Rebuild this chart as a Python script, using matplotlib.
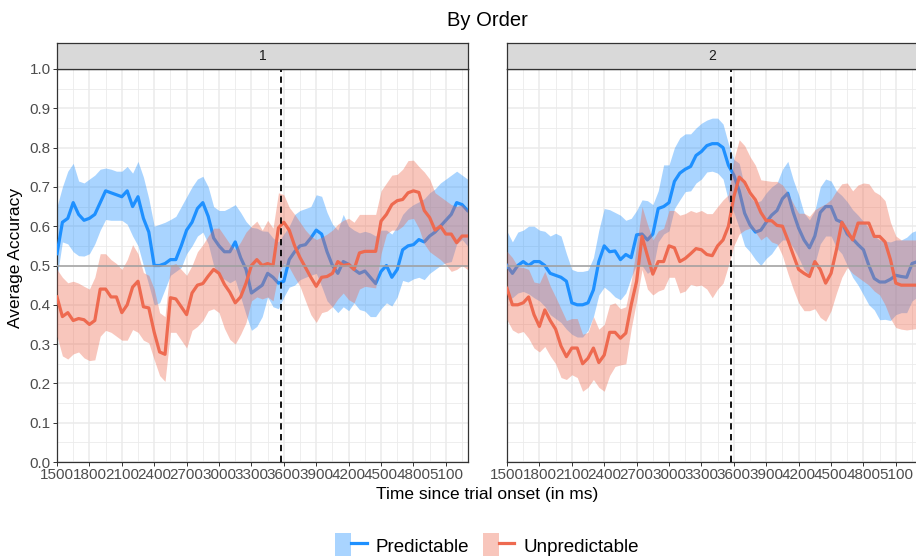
import numpy as np
import matplotlib
matplotlib.use("Agg")
import matplotlib.pyplot as plt
from matplotlib.patches import Patch
from matplotlib.lines import Line2D
from matplotlib.legend_handler import HandlerTuple
from matplotlib.ticker import MultipleLocator

plt.rcParams['font.family'] = ['Liberation Sans', 'DejaVu Sans']

# Sampling grid (ms since trial onset)
time_ms = np.arange(1500, 5301, 50)

# ---- Order 1 ----
o1_pred_mean = [
    0.53, 0.61, 0.62, 0.66, 0.63, 0.615, 0.62, 0.63, 0.66, 0.69,
    0.685, 0.68, 0.675, 0.69, 0.65, 0.675, 0.62, 0.585, 0.50, 0.50,
    0.505, 0.515, 0.515, 0.55, 0.59, 0.61, 0.645, 0.66, 0.625, 0.57,
    0.55, 0.535, 0.535, 0.56, 0.52, 0.49, 0.43, 0.44, 0.45, 0.48,
    0.47, 0.455, 0.46, 0.515, 0.535, 0.55, 0.553, 0.57, 0.59, 0.58,
    0.535, 0.50, 0.48, 0.51, 0.503, 0.49, 0.48, 0.486, 0.47, 0.454,
    0.485, 0.50, 0.47, 0.49, 0.54, 0.55, 0.553, 0.566, 0.56, 0.575,
    0.585, 0.60, 0.615, 0.63, 0.66, 0.655, 0.64]
o1_pred_hi = [
    0.65, 0.70, 0.74, 0.76, 0.715, 0.71, 0.72, 0.73, 0.745, 0.748,
    0.745, 0.74, 0.74, 0.752, 0.735, 0.765, 0.725, 0.67, 0.60, 0.605,
    0.61, 0.617, 0.625, 0.65, 0.675, 0.70, 0.72, 0.727, 0.70, 0.65,
    0.64, 0.64, 0.647, 0.655, 0.635, 0.612, 0.597, 0.595, 0.588, 0.587,
    0.57, 0.56, 0.58, 0.60, 0.63, 0.64, 0.645, 0.65, 0.68, 0.676,
    0.635, 0.605, 0.59, 0.63, 0.60, 0.59, 0.583, 0.587, 0.583, 0.575,
    0.59, 0.59, 0.58, 0.60, 0.63, 0.645, 0.655, 0.662, 0.67, 0.685,
    0.695, 0.71, 0.72, 0.73, 0.74, 0.73, 0.72]
o1_pred_lo = [
    0.47, 0.56, 0.555, 0.535, 0.525, 0.524, 0.53, 0.555, 0.59, 0.617,
    0.615, 0.615, 0.615, 0.605, 0.575, 0.55, 0.50, 0.45, 0.40, 0.405,
    0.44, 0.475, 0.485, 0.495, 0.53, 0.55, 0.575, 0.585, 0.555, 0.50,
    0.47, 0.465, 0.456, 0.464, 0.42, 0.375, 0.335, 0.345, 0.37, 0.42,
    0.395, 0.39, 0.42, 0.445, 0.45, 0.464, 0.47, 0.475, 0.48, 0.447,
    0.41, 0.395, 0.38, 0.395, 0.385, 0.405, 0.388, 0.384, 0.37, 0.37,
    0.39, 0.405, 0.397, 0.42, 0.462, 0.458, 0.466, 0.47, 0.464, 0.48,
    0.49, 0.50, 0.507, 0.51, 0.555, 0.566, 0.55]
o1_unpred_mean = [
    0.42, 0.37, 0.38, 0.36, 0.365, 0.362, 0.35, 0.36, 0.44, 0.44,
    0.42, 0.42, 0.38, 0.40, 0.445, 0.46, 0.395, 0.392, 0.33, 0.28,
    0.274, 0.418, 0.415, 0.395, 0.375, 0.43, 0.45, 0.454, 0.473, 0.49,
    0.48, 0.452, 0.432, 0.405, 0.42, 0.455, 0.50, 0.515, 0.50, 0.505,
    0.50, 0.596, 0.61, 0.59, 0.55, 0.52, 0.495, 0.47, 0.447, 0.47,
    0.472, 0.48, 0.51, 0.50, 0.503, 0.49, 0.532, 0.536, 0.536, 0.536,
    0.613, 0.63, 0.655, 0.665, 0.668, 0.685, 0.69, 0.686, 0.64, 0.622,
    0.59, 0.60, 0.58, 0.58, 0.558, 0.575, 0.575]
o1_unpred_hi = [
    0.49, 0.47, 0.456, 0.46, 0.455, 0.447, 0.44, 0.47, 0.53, 0.53,
    0.515, 0.505, 0.49, 0.515, 0.553, 0.53, 0.482, 0.475, 0.44, 0.38,
    0.37, 0.50, 0.505, 0.49, 0.475, 0.50, 0.535, 0.553, 0.575, 0.595,
    0.595, 0.575, 0.555, 0.54, 0.56, 0.585, 0.60, 0.613, 0.59, 0.615,
    0.595, 0.685, 0.68, 0.648, 0.63, 0.61, 0.59, 0.575, 0.566, 0.572,
    0.58, 0.59, 0.605, 0.615, 0.62, 0.61, 0.63, 0.63, 0.63, 0.63,
    0.69, 0.71, 0.73, 0.732, 0.745, 0.767, 0.768, 0.752, 0.738, 0.72,
    0.685, 0.675, 0.665, 0.655, 0.65, 0.655, 0.642]
o1_unpred_lo = [
    0.32, 0.27, 0.262, 0.275, 0.28, 0.265, 0.258, 0.26, 0.32, 0.335,
    0.33, 0.32, 0.31, 0.31, 0.337, 0.33, 0.31, 0.303, 0.26, 0.22,
    0.205, 0.33, 0.33, 0.31, 0.29, 0.335, 0.345, 0.36, 0.385, 0.39,
    0.38, 0.34, 0.312, 0.30, 0.325, 0.355, 0.41, 0.42, 0.415, 0.42,
    0.41, 0.48, 0.505, 0.495, 0.47, 0.447, 0.41, 0.375, 0.355, 0.38,
    0.384, 0.395, 0.415, 0.43, 0.413, 0.405, 0.44, 0.447, 0.445, 0.443,
    0.53, 0.58, 0.59, 0.59, 0.60, 0.617, 0.62, 0.595, 0.555, 0.535,
    0.525, 0.515, 0.502, 0.485, 0.49, 0.50, 0.49]

# ---- Order 2 ----
o2_pred_mean = [
    0.50, 0.48, 0.50, 0.51, 0.50, 0.51, 0.51, 0.50, 0.48, 0.475,
    0.47, 0.46, 0.405, 0.40, 0.40, 0.405, 0.438, 0.51, 0.55, 0.535,
    0.537, 0.515, 0.528, 0.52, 0.578, 0.58, 0.565, 0.58, 0.645, 0.65,
    0.66, 0.714, 0.735, 0.745, 0.752, 0.78, 0.79, 0.805, 0.81, 0.81,
    0.80, 0.755, 0.73, 0.69, 0.633, 0.603, 0.585, 0.59, 0.61, 0.628,
    0.64, 0.67, 0.684, 0.635, 0.595, 0.565, 0.545, 0.575, 0.635, 0.65,
    0.65, 0.616, 0.61, 0.58, 0.568, 0.553, 0.54, 0.50, 0.467, 0.458,
    0.458, 0.465, 0.475, 0.472, 0.47, 0.505, 0.51]
o2_pred_hi = [
    0.587, 0.56, 0.585, 0.59, 0.60, 0.60, 0.59, 0.587, 0.575, 0.582,
    0.575, 0.53, 0.49, 0.485, 0.485, 0.488, 0.52, 0.59, 0.645, 0.642,
    0.635, 0.628, 0.615, 0.62, 0.64, 0.667, 0.665, 0.655, 0.69, 0.756,
    0.756, 0.80, 0.825, 0.835, 0.835, 0.85, 0.862, 0.87, 0.875, 0.875,
    0.86, 0.81, 0.77, 0.76, 0.70, 0.675, 0.66, 0.665, 0.685, 0.70,
    0.71, 0.745, 0.765, 0.718, 0.68, 0.633, 0.616, 0.64, 0.70, 0.72,
    0.715, 0.69, 0.678, 0.662, 0.642, 0.628, 0.612, 0.595, 0.575, 0.565,
    0.562, 0.56, 0.565, 0.565, 0.572, 0.585, 0.59]
o2_pred_lo = [
    0.413, 0.418, 0.43, 0.434, 0.428, 0.418, 0.41, 0.396, 0.375, 0.365,
    0.355, 0.338, 0.325, 0.318, 0.318, 0.335, 0.37, 0.425, 0.445, 0.434,
    0.42, 0.413, 0.43, 0.47, 0.503, 0.50, 0.48, 0.49, 0.56, 0.58,
    0.588, 0.645, 0.667, 0.688, 0.69, 0.71, 0.72, 0.738, 0.74, 0.735,
    0.72, 0.665, 0.635, 0.595, 0.55, 0.535, 0.515, 0.50, 0.518, 0.53,
    0.55, 0.565, 0.565, 0.545, 0.52, 0.49, 0.475, 0.505, 0.555, 0.575,
    0.575, 0.545, 0.53, 0.50, 0.47, 0.45, 0.425, 0.40, 0.387, 0.362,
    0.363, 0.36, 0.375, 0.38, 0.38, 0.41, 0.42]
o2_unpred_mean = [
    0.442, 0.40, 0.40, 0.405, 0.42, 0.375, 0.345, 0.387, 0.36, 0.338,
    0.295, 0.268, 0.29, 0.29, 0.25, 0.264, 0.29, 0.253, 0.272, 0.33,
    0.33, 0.315, 0.328, 0.40, 0.46, 0.574, 0.525, 0.478, 0.51, 0.51,
    0.55, 0.545, 0.51, 0.518, 0.53, 0.543, 0.54, 0.528, 0.525, 0.55,
    0.565, 0.60, 0.675, 0.725, 0.712, 0.685, 0.667, 0.635, 0.614, 0.614,
    0.602, 0.60, 0.565, 0.527, 0.49, 0.48, 0.472, 0.51, 0.49, 0.455,
    0.48, 0.54, 0.61, 0.588, 0.565, 0.608, 0.608, 0.608, 0.574, 0.574,
    0.56, 0.515, 0.455, 0.45, 0.45, 0.45, 0.45]
o2_unpred_hi = [
    0.536, 0.52, 0.497, 0.495, 0.49, 0.458, 0.455, 0.485, 0.448, 0.42,
    0.39, 0.36, 0.365, 0.365, 0.325, 0.33, 0.37, 0.338, 0.35, 0.40,
    0.405, 0.39, 0.395, 0.46, 0.55, 0.65, 0.605, 0.565, 0.588, 0.595,
    0.64, 0.64, 0.628, 0.632, 0.64, 0.635, 0.64, 0.632, 0.632, 0.65,
    0.667, 0.68, 0.77, 0.82, 0.805, 0.777, 0.755, 0.718, 0.716, 0.714,
    0.714, 0.705, 0.685, 0.658, 0.633, 0.633, 0.625, 0.642, 0.65, 0.657,
    0.668, 0.69, 0.708, 0.71, 0.69, 0.705, 0.71, 0.708, 0.688, 0.68,
    0.665, 0.61, 0.575, 0.565, 0.565, 0.565, 0.565]
o2_unpred_lo = [
    0.362, 0.336, 0.328, 0.332, 0.315, 0.29, 0.28, 0.294, 0.27, 0.25,
    0.215, 0.21, 0.222, 0.215, 0.18, 0.19, 0.21, 0.19, 0.18, 0.22,
    0.243, 0.247, 0.25, 0.34, 0.41, 0.49, 0.44, 0.425, 0.435, 0.44,
    0.47, 0.47, 0.43, 0.435, 0.452, 0.448, 0.45, 0.44, 0.418, 0.44,
    0.455, 0.50, 0.55, 0.58, 0.59, 0.595, 0.585, 0.565, 0.575, 0.56,
    0.555, 0.525, 0.48, 0.44, 0.405, 0.385, 0.385, 0.39, 0.368, 0.358,
    0.385, 0.43, 0.47, 0.495, 0.48, 0.47, 0.46, 0.45, 0.435, 0.425,
    0.40, 0.365, 0.342, 0.338, 0.336, 0.338, 0.34]

panel_labels = ["1", "2"]
condition_labels = ["Predictable", "Unpredictable"]
chance_level = 0.5
target_onset_ms = 3570
x_ticks = np.arange(1500, 5101, 300)
y_ticks = np.arange(0.0, 1.01, 0.1)

panels = [
    {"pred": (o1_pred_mean, o1_pred_lo, o1_pred_hi),
     "unpred": (o1_unpred_mean, o1_unpred_lo, o1_unpred_hi)},
    {"pred": (o2_pred_mean, o2_pred_lo, o2_pred_hi),
     "unpred": (o2_unpred_mean, o2_unpred_lo, o2_unpred_hi)},
]

BLUE = "#1E90FF"
RED = "#EE6A50"
FILL_ALPHA = 0.38
GRID = "#EBEBEB"
BORDER = "#333333"

W, H = 916, 556
fig = plt.figure(figsize=(W / 100, H / 100), dpi=100)


def px_rect(x0, y0, x1, y1):
    """Convert a pixel box (top-left origin) to figure fractions."""
    return [x0 / W, 1 - y1 / H, (x1 - x0) / W, (y1 - y0) / H]


panel_boxes = [(57, 69, 468, 462), (507, 69, 918, 462)]
strip_top = 43

for i, (box, data, lab) in enumerate(zip(panel_boxes, panels, panel_labels)):
    ax = fig.add_axes(px_rect(*box))
    ax.set_xlim(1500, 5305)
    ax.set_ylim(0, 1.0)

    ax.xaxis.set_minor_locator(MultipleLocator(150))
    ax.yaxis.set_minor_locator(MultipleLocator(0.05))
    ax.set_xticks(x_ticks)
    ax.set_xticklabels([str(v) for v in x_ticks])
    ax.set_yticks(y_ticks)
    ax.set_yticklabels([f"{v:.1f}" for v in y_ticks])

    ax.grid(which="major", color=GRID, lw=1.1, zorder=0)
    ax.grid(which="minor", color=GRID, lw=0.6, zorder=0)
    ax.set_axisbelow(True)

    ax.tick_params(axis="both", which="major", length=3, width=0.7,
                   color=BORDER, labelsize=11, labelcolor="#4D4D4D", pad=1.5)
    ax.tick_params(axis="both", which="minor", length=0)
    if i > 0:
        ax.tick_params(axis="y", which="major", length=0, labelleft=False)

    for sp in ax.spines.values():
        sp.set_color(BORDER)
        sp.set_linewidth(0.9)

    m, lo, hi = data["pred"]
    ax.fill_between(time_ms, lo, hi, color=BLUE, alpha=FILL_ALPHA, lw=0, zorder=2)
    ax.plot(time_ms, m, color=BLUE, lw=2.3, zorder=3, solid_joinstyle="round")
    m, lo, hi = data["unpred"]
    ax.fill_between(time_ms, lo, hi, color=RED, alpha=FILL_ALPHA, lw=0, zorder=4)
    ax.plot(time_ms, m, color=RED, lw=2.3, zorder=5, solid_joinstyle="round")

    ax.axhline(chance_level, color="#A0A0A0", lw=1.1, zorder=6)
    ax.axvline(target_onset_ms, color="black", lw=1.3, ls=(0, (3.5, 2.5)), zorder=7)

    # facet strip
    sx = fig.add_axes(px_rect(box[0], strip_top, box[2], box[1]))
    sx.set_facecolor("#D9D9D9")
    sx.set_xticks([])
    sx.set_yticks([])
    for sp in sx.spines.values():
        sp.set_color(BORDER)
        sp.set_linewidth(0.9)
    sx.text(0.5, 0.5, lab, ha="center", va="center", fontsize=10,
            color="#1A1A1A", transform=sx.transAxes)

fig.text(487 / W, 1 - 20 / H, "By Order", ha="center", va="center",
         fontsize=14.5, color="black")
fig.text(487 / W, 1 - 494 / H, "Time since trial onset (in ms)",
         ha="center", va="center", fontsize=12.5, color="black")
fig.text(16 / W, 1 - 258 / H, "Average Accuracy", ha="center", va="center",
         rotation=90, fontsize=12.5, color="black")

handles = [
    (Patch(facecolor=BLUE, alpha=FILL_ALPHA, lw=0), Line2D([], [], color=BLUE, lw=2.3)),
    (Patch(facecolor=RED, alpha=FILL_ALPHA, lw=0), Line2D([], [], color=RED, lw=2.3)),
]
fig.legend(handles, condition_labels, loc="center", ncol=2,
           bbox_to_anchor=(487 / W, 1 - 546 / H), frameon=False,
           fontsize=13.5, handlelength=1.7, handleheight=1.7,
           handletextpad=0.5, columnspacing=0.7, borderpad=0.2,
           handler_map={tuple: HandlerTuple(ndivide=None, pad=0)})

fig.savefig("out.png", dpi=100)
